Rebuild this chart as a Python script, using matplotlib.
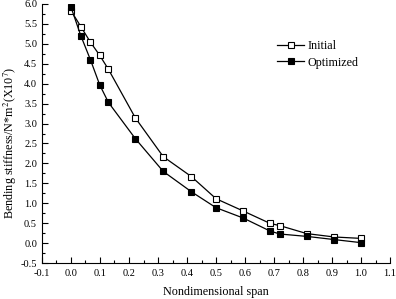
import matplotlib
matplotlib.use("Agg")
import matplotlib.pyplot as plt
from matplotlib.ticker import MultipleLocator

x_initial = [0.0, 0.034, 0.067, 0.099, 0.129, 0.222, 0.318, 0.415, 0.5, 0.594, 0.686, 0.72, 0.813, 0.908, 1.0]
y_initial = [5.83, 5.43, 5.04, 4.71, 4.36, 3.14, 2.17, 1.67, 1.115, 0.806, 0.497, 0.44, 0.24, 0.155, 0.12]
x_optimized = [0.0, 0.034, 0.067, 0.099, 0.129, 0.222, 0.318, 0.415, 0.5, 0.594, 0.686, 0.72, 0.813, 0.908, 1.0]
y_optimized = [5.92, 5.20, 4.60, 3.97, 3.53, 2.62, 1.80, 1.29, 0.89, 0.63, 0.305, 0.23, 0.17, 0.09, 0.013]

plt.rcParams['font.family'] = ['Liberation Serif', 'DejaVu Serif']
plt.rcParams['mathtext.fontset'] = 'stix'

fig = plt.figure(figsize=(3.96, 2.99), dpi=100)
ax = fig.add_axes([0.106, 0.120, 0.879, 0.867])

ax.plot(x_initial, y_initial, color='black', lw=0.9, marker='s', ms=4.2,
        mfc='white', mec='black', mew=0.8, label='Initial')
ax.plot(x_optimized, y_optimized, color='black', lw=0.9, marker='s', ms=4.2,
        mfc='black', mec='black', mew=0.8, label='Optimized')

ax.set_xlim(-0.1, 1.1)
ax.set_ylim(-0.5, 6.0)
ax.xaxis.set_major_locator(MultipleLocator(0.1))
ax.xaxis.set_minor_locator(MultipleLocator(0.05))
ax.yaxis.set_major_locator(MultipleLocator(0.5))
ax.yaxis.set_minor_locator(MultipleLocator(0.25))
ax.xaxis.set_major_formatter(plt.FuncFormatter(lambda v, p: f"{v:.1f}"))
ax.yaxis.set_major_formatter(plt.FuncFormatter(lambda v, p: f"{v:.1f}"))
ax.tick_params(which='both', direction='in', labelsize=7.5, width=0.8)
ax.tick_params(axis='x', pad=4.5)
ax.tick_params(axis='y', pad=3.5)
ax.tick_params(which='major', length=4.5)
ax.tick_params(which='minor', length=2.5)
for s in ['top', 'right']:
    ax.spines[s].set_visible(False)
for s in ['left', 'bottom']:
    ax.spines[s].set_linewidth(0.8)

ax.set_xlabel('Nondimensional span', fontsize=8.7)
ax.set_ylabel(r'Bending stiffness/N*m$^2$(X10$^7$)', fontsize=8.7)
ax.xaxis.set_label_coords(0.5, -0.088)
ax.yaxis.set_label_coords(-0.067, 0.463)

fig.legend(loc='upper left', bbox_to_anchor=(0.685, 0.885), frameon=False,
           fontsize=8.7, handlelength=2.2, handletextpad=0.3, borderpad=0,
           labelspacing=0.35)

fig.savefig('out.png', dpi=100)
